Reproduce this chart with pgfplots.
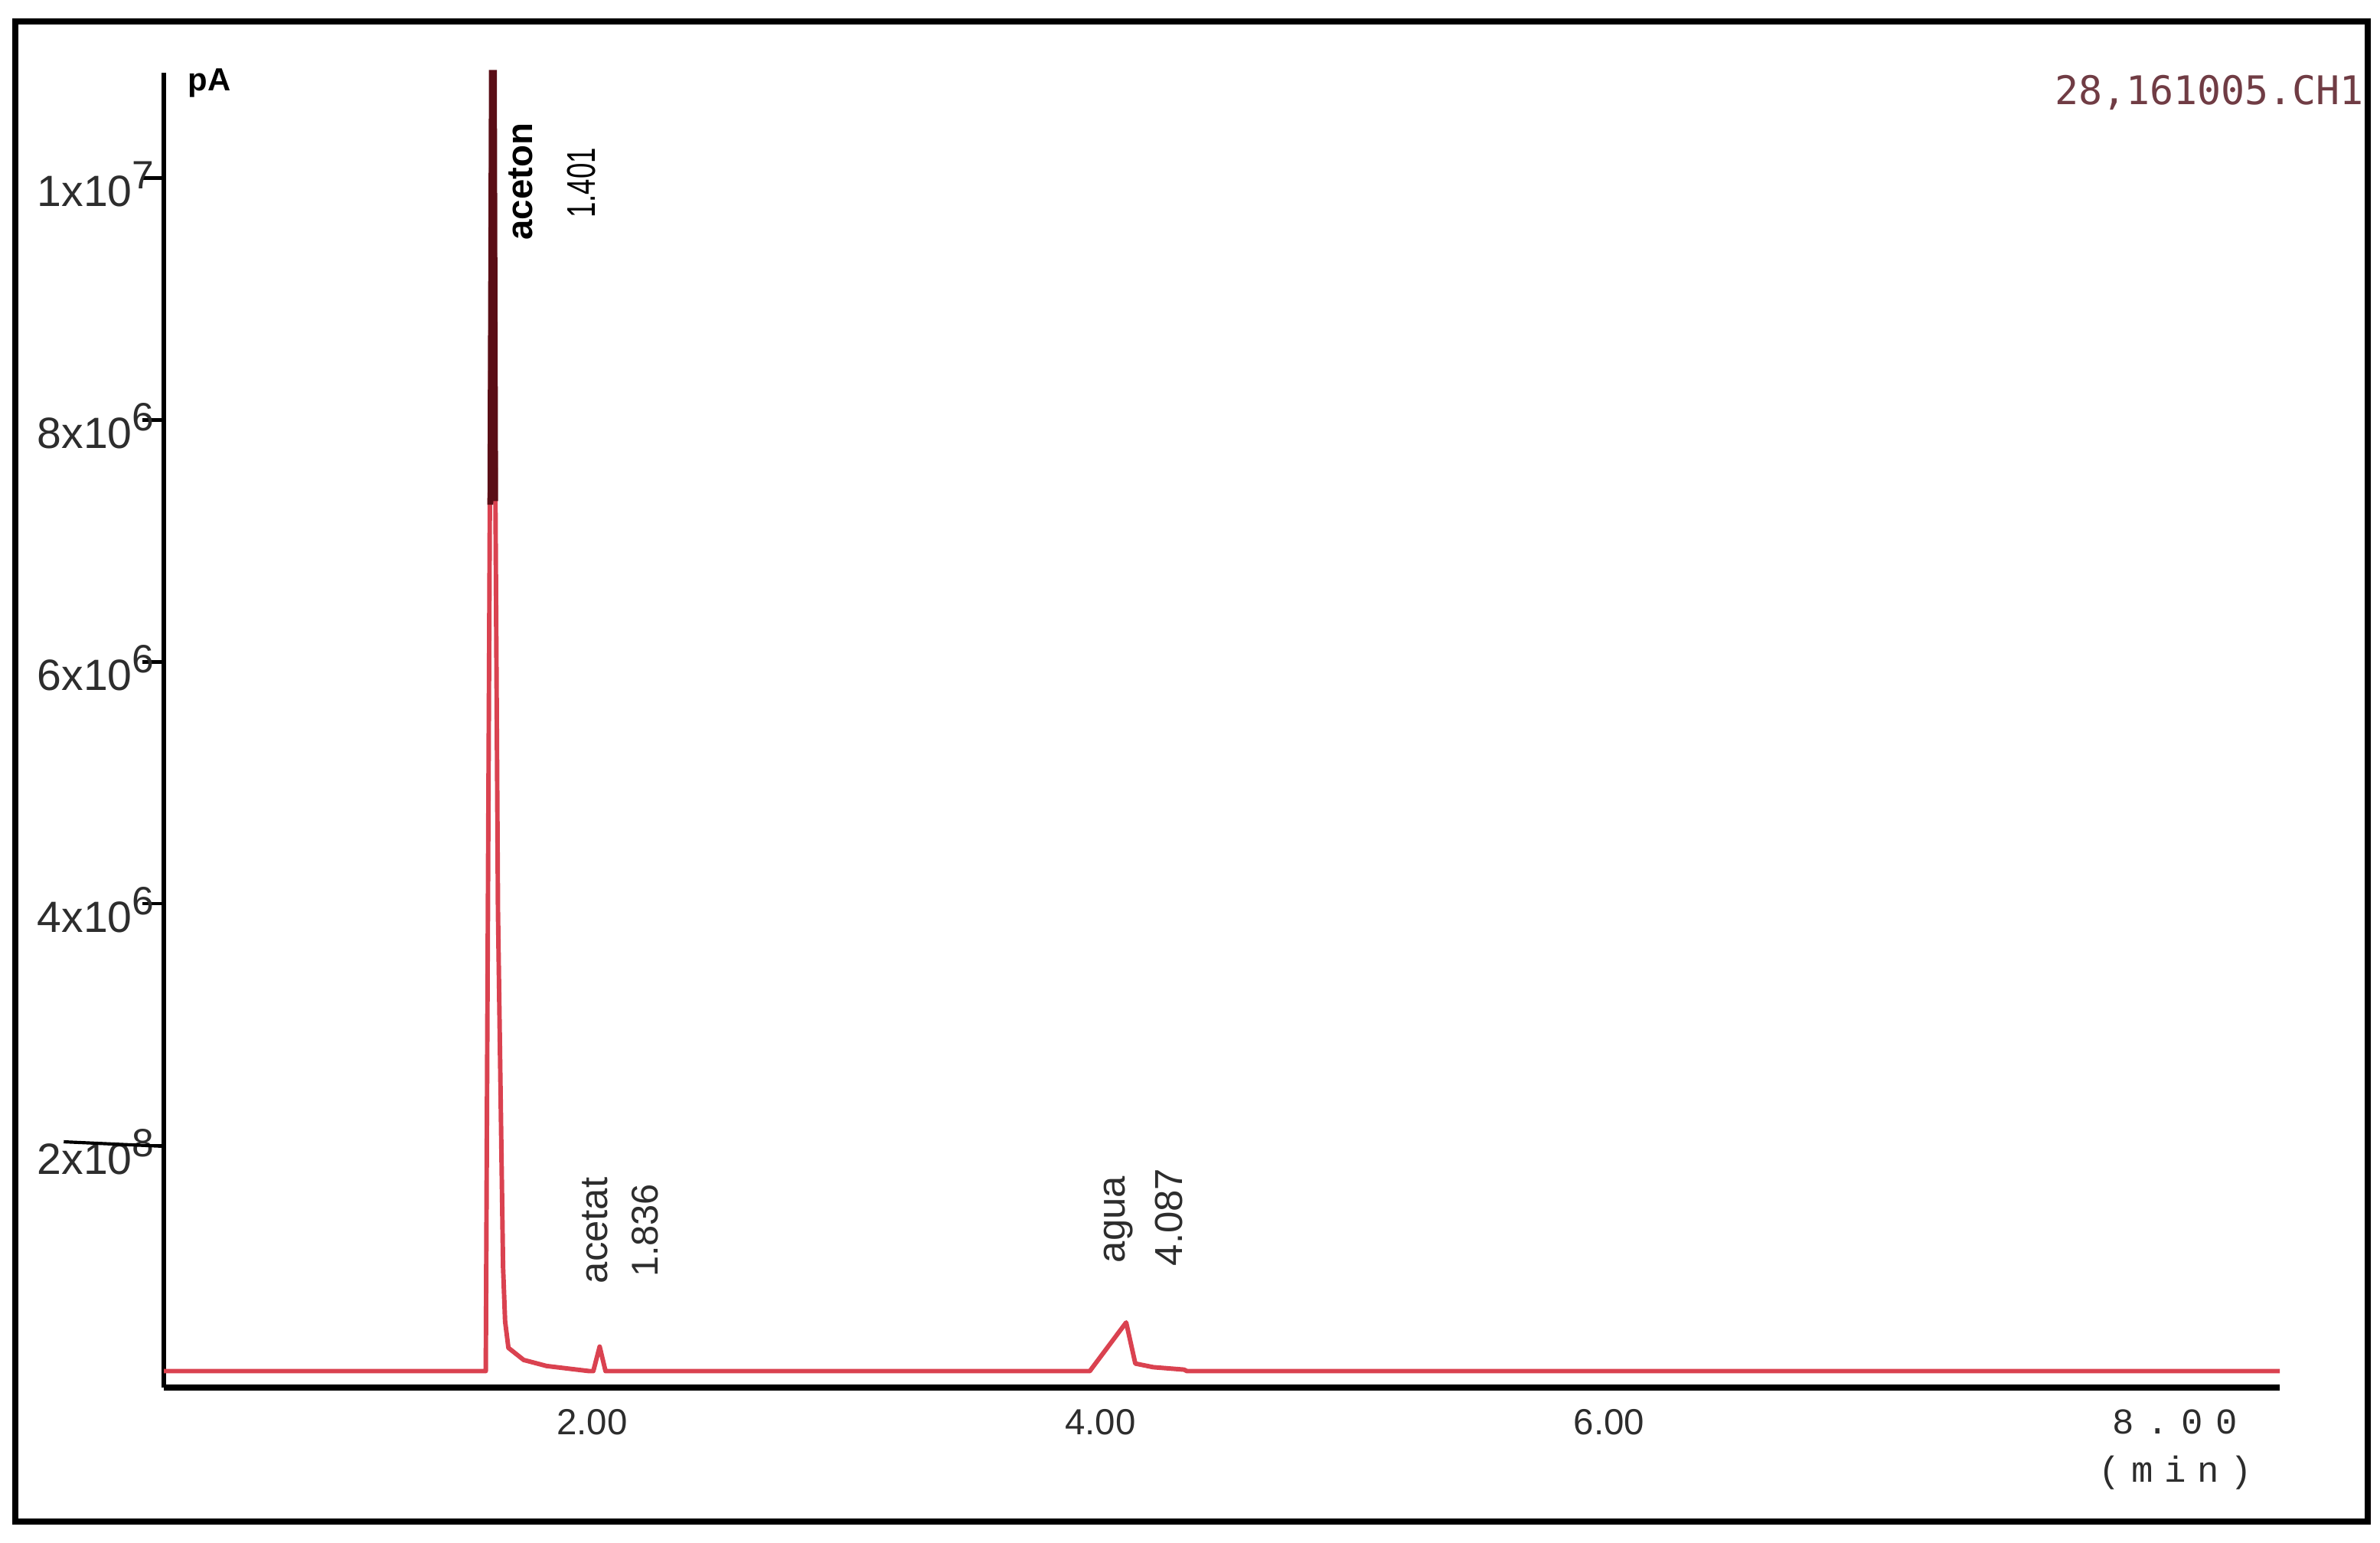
\documentclass[border=0pt]{standalone}
\usepackage{pgfplots}
\pgfplotsset{compat=1.18}
\usepackage{fontspec}
\setmainfont{Liberation Sans}
\newfontfamily\monofont{Liberation Mono}
\newfontfamily\idfont{DejaVu Sans Mono}
\usepackage{graphicx}

\definecolor{trace}{RGB}{218,66,80}
\definecolor{tracedark}{RGB}{90,14,22}
\definecolor{idcol}{RGB}{112,60,68}
\definecolor{lbl}{RGB}{45,45,45}

% tick label like 4x10^6
\newcommand{\sci}[2]{#1x10\raisebox{0.75ex}{\fontsize{7.4}{8}\selectfont #2}}
% gap in spaced monospace text
\newcommand{\gap}[1]{\hspace{#1}}

\begin{document}
\begin{tikzpicture}
\path[use as bounding box] (-1.08,-1.02) rectangle (14.60,9.14);
\draw[line width=1.1pt] (-0.98,-0.88) rectangle (14.52,9.00);
\node[anchor=east, text=idcol, font=\idfont\fontsize{7.4}{9}\selectfont, inner sep=0pt] at (14.50,8.53) {28,161005.CH1};
\begin{axis}[
  at={(0,0)}, anchor=south west,
  scale only axis, width=13.94cm, height=8.66cm,
  xmin=0.316, xmax=8.639, ymin=0, ymax=10.87e6,
  axis x line=bottom, axis y line=left,
  axis line style={-},
  x axis line style={line width=1.2pt},
  y axis line style={line width=0.8pt},
  clip=false,
  xtick={2,4,6,8},
  xticklabels={2.00,4.00,6.00,{\hspace*{0.76cm}\monofont\fontsize{6.8}{8}\selectfont 8\gap{2.4pt}.\gap{2.4pt}0\gap{2.4pt}0}},
  xtick style={draw=none},
  xticklabel style={font=\fontsize{6.8}{8}\selectfont, text=lbl, yshift=0.12cm},
  ytick={2e6,4e6,6e6,8e6,10e6},
  yticklabels={\sci{2}{8},\sci{4}{6},\sci{6}{6},\sci{8}{6},\sci{1}{7}},
  scaled y ticks=false,
  tick align=outside, major tick length=0.14cm,
  ytick style={line width=0.6pt, black},
  yticklabel style={font=\fontsize{8.2}{10}\selectfont, text=lbl, xshift=0.2cm, yshift=-0.04cm},
  xlabel={\monofont\fontsize{6.8}{8}\selectfont (\gap{2.1pt}m\gap{2.1pt}i\gap{2.1pt}n\gap{2.1pt})},
  every axis x label/.style={at={(axis description cs:0.9505,-0.0647)}, anchor=center, text=lbl},
  ylabel={\bfseries pA},
  every axis y label/.style={at={(axis description cs:0.0215,0.992)}, anchor=center, font=\fontsize{6}{7}\selectfont},
]
% chromatogram trace (time in min, signal in pA)
\addplot[trace, line width=0.85pt, line join=round] coordinates {
  (0.316,0.138e6) (1.582,0.138e6) (1.588,2.9e6) (1.598,7.3e6) (1.606,10.87e6)
  (1.614,10.87e6) (1.620,7.33e6) (1.630,3.94e6) (1.642,2.18e6) (1.650,1.0e6)
  (1.658,0.55e6) (1.671,0.33e6) (1.731,0.23e6) (1.821,0.18e6) (1.940,0.15e6)
  (1.988,0.138e6) (2.005,0.138e6) (2.030,0.34e6) (2.053,0.138e6)
  (3.958,0.138e6) (4.101,0.54e6) (4.137,0.20e6) (4.208,0.17e6) (4.328,0.15e6)
  (4.340,0.138e6) (8.639,0.138e6)
};
% darker overlay at the top of the main peak
\addplot[tracedark, line width=1.1pt] coordinates {
  (1.600,7.3e6) (1.606,10.87e6) (1.614,10.87e6) (1.619,7.33e6)
};
\node[rotate=90, font=\bfseries\fontsize{6.8}{8}\selectfont] at (axis cs:1.719,9.97e6) {aceton};
\node[rotate=90] at (axis cs:1.958,9.96e6) {\scalebox{0.7}[1]{\fontsize{7.5}{9}\selectfont 1.401}};
\node[rotate=90, font=\fontsize{7.3}{9}\selectfont, text=lbl] at (axis cs:2.011,1.30e6) {acetat};
\node[rotate=90, font=\fontsize{7}{9}\selectfont, text=lbl] at (axis cs:2.209,1.30e6) {1.836};
\node[rotate=90, font=\fontsize{7.3}{9}\selectfont, text=lbl] at (axis cs:4.071,1.39e6) {agua};
\node[rotate=90, font=\fontsize{7.3}{9}\selectfont, text=lbl] at (axis cs:4.268,1.41e6) {4.087};
\end{axis}
\draw[line width=0.6pt] (-0.66,1.62) -- (0,1.59);
\end{tikzpicture}
\end{document}
